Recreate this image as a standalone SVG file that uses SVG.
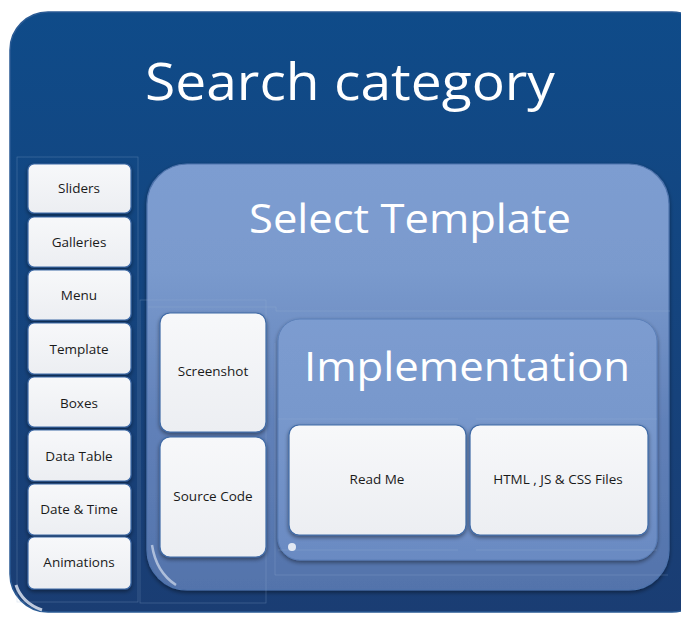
<svg xmlns="http://www.w3.org/2000/svg" width="681" height="619" viewBox="0 0 681 619">
<style>
.lbl{font-family:"Open Sans","Liberation Sans",sans-serif;font-size:13.5px;fill:#1a1a1a;text-anchor:middle}
.big{font-family:"Open Sans","Liberation Sans",sans-serif;fill:#ffffff;text-anchor:middle}
.btn{fill:url(#btnG);stroke:#3f6aa6;stroke-width:1.2}
.guide{fill:none;stroke:#9fb6d8;stroke-width:0.7;opacity:0.35}
</style>
<defs>
<linearGradient id="btnG" x1="0" y1="0" x2="0" y2="1">
<stop offset="0" stop-color="#f7f8fa"/>
<stop offset="1" stop-color="#eceef2"/>
</linearGradient>
<linearGradient id="selG" x1="0" y1="0" x2="0" y2="1">
<stop offset="0" stop-color="#7d9dd1"/>
<stop offset="0.25" stop-color="#7a9acd"/>
<stop offset="0.6" stop-color="#6181b9"/>
<stop offset="1" stop-color="#5373ab"/>
</linearGradient>
<linearGradient id="impG" x1="0" y1="0" x2="0" y2="1">
<stop offset="0" stop-color="#7c9cd0"/>
<stop offset="0.4" stop-color="#7898cc"/>
<stop offset="1" stop-color="#6a8ac2"/>
</linearGradient>
<linearGradient id="outG" x1="0" y1="0" x2="0" y2="1">
<stop offset="0" stop-color="#0f4b89"/>
<stop offset="1" stop-color="#1a3d73"/>
</linearGradient>
<linearGradient id="hl" x1="0" y1="0" x2="1" y2="0">
<stop offset="0" stop-color="#ffffff" stop-opacity="0"/>
<stop offset="0.15" stop-color="#dfe9f7" stop-opacity="0.9"/>
<stop offset="0.85" stop-color="#dfe9f7" stop-opacity="0.9"/>
<stop offset="1" stop-color="#ffffff" stop-opacity="0"/>
</linearGradient>
<filter id="sh" x="-10%" y="-10%" width="120%" height="125%">
<feGaussianBlur in="SourceAlpha" stdDeviation="2"/>
<feOffset dx="0" dy="2"/>
<feComponentTransfer><feFuncA type="linear" slope="0.45"/></feComponentTransfer>
<feMerge><feMergeNode/><feMergeNode in="SourceGraphic"/></feMerge>
</filter>
</defs>

<g id="search-category">
<rect x="10" y="12" width="700" height="600" rx="38" fill="url(#outG)" stroke="#2a5a94" stroke-width="1.5"/>
<path d="M40 16 H650" stroke="url(#hl)" stroke-width="3" stroke-linecap="round"/>
<path d="M16 585 Q22 603 42 610" stroke="#e8eef8" stroke-width="3" fill="none" opacity="0.8"/>
<text class="big" x="350" y="100" font-size="52" textLength="410" lengthAdjust="spacingAndGlyphs">Search category</text>
<rect class="guide" x="17" y="157" width="121" height="445"/>
</g>

<g id="select-template">
<rect x="147" y="164" width="522" height="426" rx="40" fill="url(#selG)" stroke="#4f74ad" stroke-width="1.2" filter="url(#sh)"/>
<path d="M175 172 H640" stroke="url(#hl)" stroke-width="3" stroke-linecap="round"/>
<path d="M152 545 Q156 572 176 585" stroke="#e8eef8" stroke-width="2.5" fill="none" opacity="0.6"/>
<text class="big" x="410" y="233" font-size="40" textLength="322" lengthAdjust="spacingAndGlyphs">Select Template</text>
<path class="guide" d="M148 307 H276 V311 H670"/>
<rect class="guide" x="140" y="300" width="126" height="303"/>
<path class="guide" d="M275 343 V575 H668"/>
</g>

<g id="implementation">
<rect x="278" y="319" width="379" height="241" rx="22" fill="url(#impG)" stroke="#5b7fb8" stroke-width="1" filter="url(#sh)"/>
<path d="M297 323 H637" stroke="url(#hl)" stroke-width="3" stroke-linecap="round"/>
<text class="big" x="467" y="381" font-size="40" textLength="326" lengthAdjust="spacingAndGlyphs">Implementation</text>
<path class="guide" d="M278 419 H458 M476 419 H657 M278 550 H458 M476 550 H657"/>
<circle cx="292" cy="547" r="4" fill="#ffffff" opacity="0.8"/>
</g>

<g id="n-sliders"><rect class="btn" x="28" y="164" width="103" height="49" rx="6" filter="url(#sh)"/><text class="lbl" x="79" y="193">Sliders</text></g>
<g id="n-galleries"><rect class="btn" x="28" y="217" width="103" height="50" rx="6" filter="url(#sh)"/><text class="lbl" x="79" y="247">Galleries</text></g>
<g id="n-menu"><rect class="btn" x="28" y="270" width="103" height="50" rx="6" filter="url(#sh)"/><text class="lbl" x="79" y="300">Menu</text></g>
<g id="n-template"><rect class="btn" x="28" y="323" width="103" height="51" rx="6" filter="url(#sh)"/><text class="lbl" x="79" y="354">Template</text></g>
<g id="n-boxes"><rect class="btn" x="28" y="377" width="103" height="50" rx="6" filter="url(#sh)"/><text class="lbl" x="79" y="408">Boxes</text></g>
<g id="n-datatable"><rect class="btn" x="28" y="430" width="103" height="51" rx="6" filter="url(#sh)"/><text class="lbl" x="79" y="461">Data Table</text></g>
<g id="n-datetime"><rect class="btn" x="28" y="484" width="103" height="51" rx="6" filter="url(#sh)"/><text class="lbl" x="79" y="514">Date &amp; Time</text></g>
<g id="n-animations"><rect class="btn" x="28" y="537" width="103" height="52" rx="6" filter="url(#sh)"/><text class="lbl" x="79" y="567">Animations</text></g>

<g id="n-screenshot"><rect class="btn" x="160" y="313" width="106" height="119" rx="10" filter="url(#sh)"/><text class="lbl" x="213" y="376">Screenshot</text></g>
<g id="n-sourcecode"><rect class="btn" x="160" y="437" width="106" height="120" rx="10" filter="url(#sh)"/><text class="lbl" x="213" y="501">Source Code</text></g>

<g id="n-readme"><rect class="btn" x="289" y="425" width="177" height="110" rx="10" filter="url(#sh)"/><text class="lbl" x="377" y="484">Read Me</text></g>
<g id="n-files"><rect class="btn" x="470" y="425" width="178" height="110" rx="10" filter="url(#sh)"/><text class="lbl" x="558" y="484">HTML , JS &amp; CSS Files</text></g>

<g id="connectors"></g>
</svg>
